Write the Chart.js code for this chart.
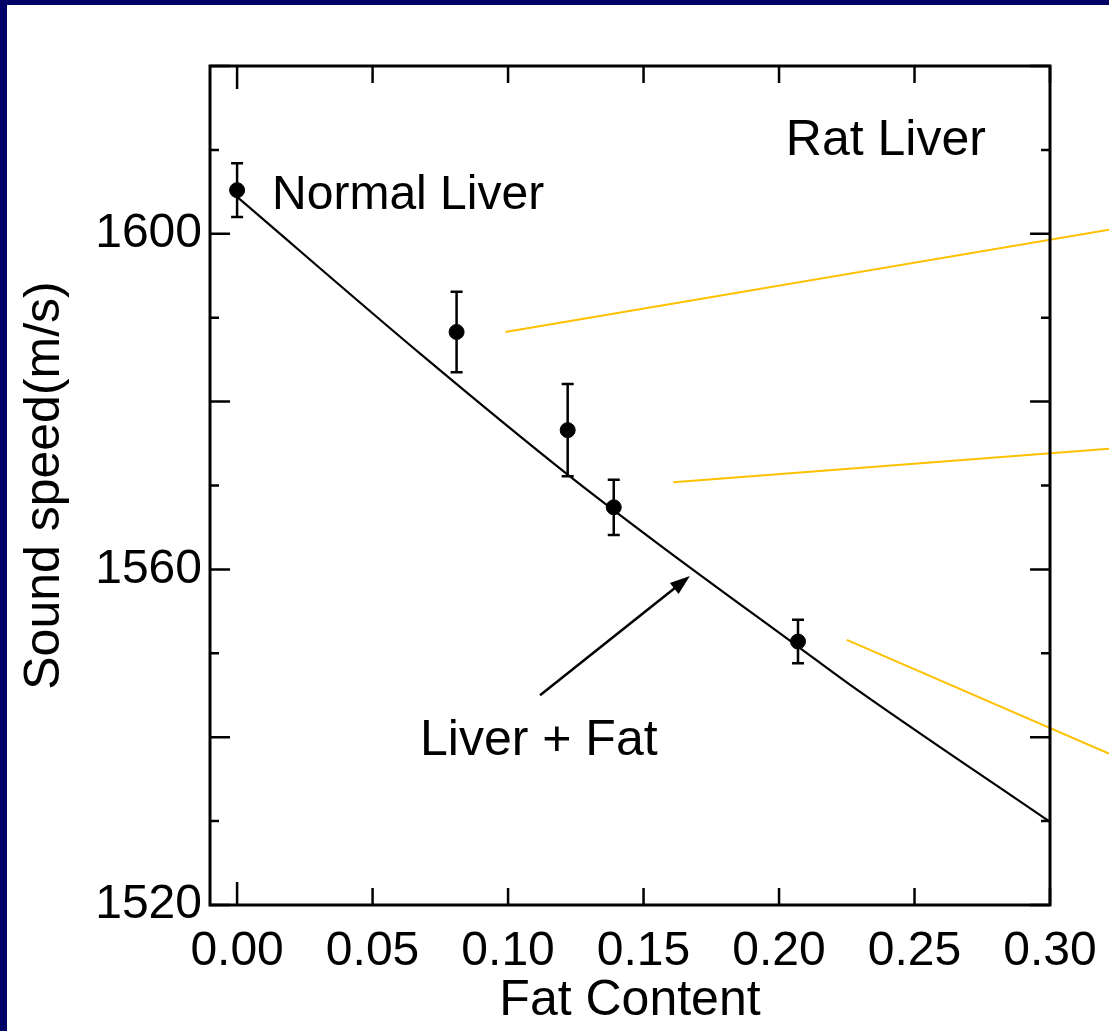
<!DOCTYPE html>
<html>
<head>
<meta charset="utf-8">
<script src="https://cdn.jsdelivr.net/npm/chart.js@4"></script>
<style>
  html, body { margin: 0; padding: 0; background: #fff; }
  canvas { display: block; }
</style>
</head>
<body>
<canvas id="speedChart" width="1109" height="1031"></canvas>
<script>
// measured points (fat content vs sound speed) with error bars
var fatContent = [0.000, 0.081, 0.122, 0.139, 0.207];
var soundSpeed = [1605.2, 1588.3, 1576.6, 1567.4, 1551.4];
var speedError = [3.2, 4.8, 5.5, 3.3, 2.6];

// model curve "Liver + Fat"
var fitX = [0.000, 0.068, 0.122, 0.156, 0.207, 0.226, 0.300];
var fitY = [1604.4, 1585.6, 1571.3, 1562.9, 1550.8, 1546.3, 1529.9];

// orange pointer lines running off to the right
var guide1X = [0.099, 0.322], guide1Y = [1588.3, 1600.5];
var guide2X = [0.161, 0.322], guide2Y = [1570.4, 1574.4];
var guide3X = [0.225, 0.322], guide3Y = [1551.6, 1538.0];

// ticks
var xTickValues = [0.00, 0.05, 0.10, 0.15, 0.20, 0.25, 0.30];
var yTickValues = [1520, 1560, 1600];
var yMinorTicks = [1520, 1530, 1540, 1550, 1560, 1570, 1580, 1590, 1600, 1610, 1620];

var FONT = 'Liberation Sans, Arial, sans-serif';

function pairs(xs, ys) {
  return xs.map(function(x, i) { return { x: x, y: ys[i] }; });
}

// white page + navy slide edge
var pagePlugin = {
  id: 'page',
  beforeDraw: function(chart) {
    var c = chart.ctx;
    c.save();
    c.fillStyle = '#ffffff';
    c.fillRect(0, 0, chart.width, chart.height);
    c.fillStyle = '#000066';
    c.fillRect(0, 0, chart.width, 5);
    c.fillRect(0, 0, 7, chart.height);
    c.restore();
  }
};

// box frame with inward ticks, error bars, text and arrow
var decorPlugin = {
  id: 'decor',
  afterDatasetsDraw: function(chart) {
    var c = chart.ctx, a = chart.chartArea;
    var xs = chart.scales.x, ys = chart.scales.y;
    c.save();
    c.strokeStyle = '#000';
    c.lineWidth = 3;
    c.strokeRect(a.left, a.top, a.right - a.left, a.bottom - a.top);

    c.lineWidth = 2.5;
    yMinorTicks.forEach(function(v) {
      var py = ys.getPixelForValue(v);
      var len = (v % 20 === 0) ? 20 : 9;
      c.beginPath();
      c.moveTo(a.left, py); c.lineTo(a.left + len, py);
      c.moveTo(a.right, py); c.lineTo(a.right - len, py);
      c.stroke();
    });
    xTickValues.forEach(function(v) {
      var px = xs.getPixelForValue(v);
      var len = v === 0 ? 23 : 17;
      c.beginPath();
      c.moveTo(px, a.bottom); c.lineTo(px, a.bottom - len);
      c.moveTo(px, a.top); c.lineTo(px, a.top + len);
      c.stroke();
    });

    // error bars
    c.lineWidth = 2.5;
    fatContent.forEach(function(x, i) {
      var px = xs.getPixelForValue(x);
      var top = ys.getPixelForValue(soundSpeed[i] + speedError[i]);
      var bot = ys.getPixelForValue(soundSpeed[i] - speedError[i]);
      c.beginPath();
      c.moveTo(px, top); c.lineTo(px, bot);
      c.moveTo(px - 6, top); c.lineTo(px + 6, top);
      c.moveTo(px - 6, bot); c.lineTo(px + 6, bot);
      c.stroke();
    });

    // labels
    c.fillStyle = '#000';
    c.textBaseline = 'alphabetic';
    c.textAlign = 'left';
    c.font = '50px ' + FONT;
    c.fillText('Rat Liver', xs.getPixelForValue(0.2025), ys.getPixelForValue(1609.4));
    c.font = '48px ' + FONT;
    c.fillText('Normal Liver', xs.getPixelForValue(0.0129), ys.getPixelForValue(1603.0));
    c.font = '50px ' + FONT;
    c.fillText('Liver + Fat', xs.getPixelForValue(0.0675), ys.getPixelForValue(1537.9));

    // arrow
    var x0 = xs.getPixelForValue(0.1118), y0 = ys.getPixelForValue(1545.0);
    var x1 = xs.getPixelForValue(0.1671), y1 = ys.getPixelForValue(1559.2);
    var ang = Math.atan2(y1 - y0, x1 - x0);
    c.lineWidth = 2.5;
    c.beginPath();
    c.moveTo(x0, y0);
    c.lineTo(x1 - 14 * Math.cos(ang), y1 - 14 * Math.sin(ang));
    c.stroke();
    c.beginPath();
    c.moveTo(x1, y1);
    c.lineTo(x1 - 20 * Math.cos(ang) + 7 * Math.sin(ang), y1 - 20 * Math.sin(ang) - 7 * Math.cos(ang));
    c.lineTo(x1 - 20 * Math.cos(ang) - 7 * Math.sin(ang), y1 - 20 * Math.sin(ang) + 7 * Math.cos(ang));
    c.closePath();
    c.fill();
    c.restore();
  }
};

function guide(xs, ys) {
  return {
    data: pairs(xs, ys),
    showLine: true,
    borderColor: '#FFC000',
    borderWidth: 2,
    pointRadius: 0,
    clip: false
  };
}

new Chart(document.getElementById('speedChart'), {
  type: 'scatter',
  data: {
    datasets: [
      {
        label: 'Liver + Fat',
        data: pairs(fitX, fitY),
        showLine: true,
        borderColor: '#000',
        borderWidth: 2.2,
        pointRadius: 0,
        cubicInterpolationMode: 'monotone'
      },
      {
        label: 'Rat Liver',
        data: pairs(fatContent, soundSpeed),
        backgroundColor: '#000',
        borderColor: '#000',
        pointRadius: 7.5,
        pointHoverRadius: 7.5
      },
      guide(guide1X, guide1Y),
      guide(guide2X, guide2Y),
      guide(guide3X, guide3Y)
    ]
  },
  options: {
    responsive: false,
    animation: false,
    events: [],
    layout: { padding: { top: 66, right: 59, left: 0, bottom: 0 } },
    plugins: { legend: { display: false }, tooltip: { enabled: false } },
    scales: {
      x: {
        type: 'linear',
        min: -0.01,
        max: 0.30,
        grid: { display: false, drawTicks: false },
        border: { display: false },
        afterFit: function(s) { s.height = 126; s.paddingLeft = 0; s.paddingRight = 0; },
        afterBuildTicks: function(s) { s.ticks = xTickValues.map(function(v) { return { value: v }; }); },
        ticks: {
          autoSkip: false,
          maxRotation: 0,
          padding: 18,
          color: '#000',
          font: { size: 48, family: FONT },
          callback: function(v) { return Number(v).toFixed(2); }
        },
        title: {
          display: true,
          text: 'Fat Content',
          color: '#000',
          font: { size: 50, family: FONT },
          padding: { top: 0, bottom: 0 }
        }
      },
      y: {
        min: 1520,
        max: 1620,
        grid: { display: false, drawTicks: false },
        border: { display: false },
        afterFit: function(s) { s.width = 210; },
        afterBuildTicks: function(s) { s.ticks = yTickValues.map(function(v) { return { value: v }; }); },
        ticks: {
          padding: 8,
          color: '#000',
          font: { size: 48, family: FONT },
          callback: function(v) { return String(v); }
        },
        title: {
          display: true,
          text: 'Sound speed(m/s)',
          color: '#000',
          font: { size: 50, family: FONT },
          padding: { top: 15, bottom: 0 }
        }
      }
    }
  },
  plugins: [pagePlugin, decorPlugin]
});
</script>
</body>
</html>
